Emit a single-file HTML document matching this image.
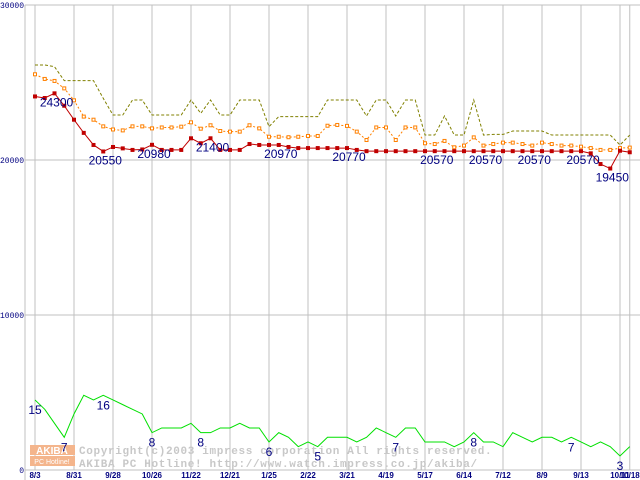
<!DOCTYPE html>
<html><head><meta charset="utf-8"><style>
body{margin:0;background:#fff}
svg{display:block;font-family:"Liberation Sans",sans-serif}
</style></head><body>
<svg id="chart" width="640" height="480" viewBox="0 0 640 480" xmlns="http://www.w3.org/2000/svg">
<rect width="640" height="480" fill="#fff"/>
<g id="grid"></g>
<g id="watermark">
 <rect x="30" y="445" width="45" height="10" fill="#f4b58c"/>
 <text x="52" y="454" font-size="10" font-weight="bold" fill="#fff" text-anchor="middle">AKIBA</text>
 <rect x="30" y="456" width="45" height="10" fill="#f4b58c"/>
 <text x="52" y="464" font-size="7" fill="#fff" text-anchor="middle">PC Hotline!</text>
 <text x="79" y="454" font-size="11" fill="#c8c8c8" font-weight="bold" font-family="Liberation Mono, monospace" letter-spacing="0.65">Copyright(c)2003 impress corporation All rights reserved.</text>
 <text x="79" y="467" font-size="11" fill="#c8c8c8" font-weight="bold" font-family="Liberation Mono, monospace" letter-spacing="0.65">AKIBA PC Hotline!  http://www.watch.impress.co.jp/akiba/</text>
</g>
<g id="series"></g>
<g id="labels"></g>
</svg>
<script>
const xTickLabels=["8/3","8/31","9/28","10/26","11/22","12/21","1/25","2/22","3/21","4/19","5/17","6/14","7/12","8/9","9/13","10/11"];
const lastTickLabel="10/18";
const yTicks=[0,10000,20000,30000];
const minPrice=[24100,24000,24300,23500,22600,21750,20970,20550,20840,20750,20650,20680,20980,20650,20650,20650,21400,21080,21400,20650,20650,20650,21030,20970,20970,20970,20840,20770,20770,20770,20770,20770,20770,20650,20570,20570,20570,20570,20570,20570,20570,20570,20570,20570,20570,20570,20570,20570,20570,20570,20570,20570,20570,20570,20570,20570,20570,20430,19740,19450,20600,20500];
const avgPrice=[25530,25230,25100,24620,23850,22800,22600,22170,21970,21910,22170,22170,22040,22100,22100,22150,22430,22020,22240,21870,21830,21830,22240,22040,21500,21500,21470,21500,21550,21550,22210,22260,22200,21830,21290,22100,22100,21290,22100,22100,21080,21030,21230,20820,20930,21460,20930,21030,21120,21120,21030,20930,21120,21030,20930,20930,20860,20770,20650,20650,20770,20800];
const maxPrice=[26130,26130,26020,25120,25120,25120,25120,23980,22900,22900,23870,23870,22900,22900,22900,22900,23870,23010,23870,22900,22900,23870,23870,23870,22150,22800,22800,22800,22800,22800,23870,23870,23870,23870,22840,23870,23870,22840,23870,23870,21610,21610,22840,21610,21610,23870,21610,21650,21650,21870,21870,21870,21870,21610,21610,21610,21610,21610,21610,21610,20970,21610];
const shopCount=[15,13,10,7,12,16,15,16,15,14,13,12,8,9,9,9,10,8,8,9,9,10,9,9,6,8,7,5,6,5,7,7,7,6,7,9,8,7,9,9,6,6,6,5,6,8,6,6,5,8,7,6,7,7,6,7,6,5,6,5,3,5];
const priceLabelIdx=[2,7,12,18,25,32,41,46,51,56,59];
const countLabelIdx=[0,3,7,12,17,24,29,37,45,55,60];

const NS="http://www.w3.org/2000/svg";
const X0=35, STEP=9.75, Y0=470, YS=0.0155, CS=4.67;
const xi=i=>X0+i*STEP;
const yp=v=>Y0-v*YS;
const yc=c=>Y0-c*CS;
function mk(tag,attrs,parent){const e=document.createElementNS(NS,tag);for(const k in attrs)e.setAttribute(k,attrs[k]);parent.appendChild(e);return e;}
const grid=document.getElementById('grid'),ser=document.getElementById('series'),lab=document.getElementById('labels');

yTicks.forEach(v=>{
 const l=mk('line',{x1:25,x2:640,y1:yp(v),y2:yp(v),stroke:'#c0c0c0','stroke-width':1},grid);
 
 
 const t=mk('text',{x:24,y:yp(v)+3,'font-size':8,fill:'#000080','text-anchor':'end','font-family':'Liberation Mono, monospace'},grid);
 t.textContent=String(v);
 
 
});
const ax=mk('line',{x1:25,x2:25,y1:yp(30000),y2:480,stroke:'#c0c0c0'},grid);


function xTick(i,label){
 const l=mk('line',{x1:xi(i),x2:xi(i),y1:yp(30000),y2:Y0,stroke:'#c0c0c0'},grid);
 
 
 const t=mk('text',{x:xi(i),y:478,'font-size':8,fill:'#000080','text-anchor':'middle','font-weight':'bold'},grid);
 t.textContent=label;
 
 
}
xTickLabels.forEach((s,k)=>xTick(k*4,s));
xTick(minPrice.length-1,lastTickLabel);

function line(arr,yf,color,dash,name){
 const p=mk('polyline',{points:arr.map((v,i)=>xi(i)+','+yf(v)).join(' '),fill:'none',stroke:color,'stroke-width':1,'stroke-dasharray':dash},ser);
 
 
}
line(maxPrice,yp,'#808000','3,2','max-price-line');
line(avgPrice,yp,'#ff8000','2,2','avg-price-line');
line(minPrice,yp,'#c00000','none','min-price-line');
line(shopCount,yc,'#00e000','none','shop-count-line');
avgPrice.forEach((v,i)=>{
 const r=mk('rect',{x:xi(i)-1.5,y:yp(v)-1.5,width:3,height:3,fill:'#fff',stroke:'#ff8000','stroke-width':1},ser);
 
 
});
minPrice.forEach((v,i)=>{
 const r=mk('rect',{x:xi(i)-2,y:yp(v)-2,width:4,height:4,fill:'#c00000'},ser);
 
 
});
priceLabelIdx.forEach(i=>{
 const t=mk('text',{x:xi(i)+2,y:yp(minPrice[i])+13,'font-size':12,fill:'#000080','text-anchor':'middle'},lab);
 t.textContent=String(minPrice[i]);
 
 
});
countLabelIdx.forEach(i=>{
 const t=mk('text',{x:xi(i),y:yc(shopCount[i])+14,'font-size':12,fill:'#000080','text-anchor':'middle'},lab);
 t.textContent=String(shopCount[i]);
 
 
});
</script>
</body></html>
